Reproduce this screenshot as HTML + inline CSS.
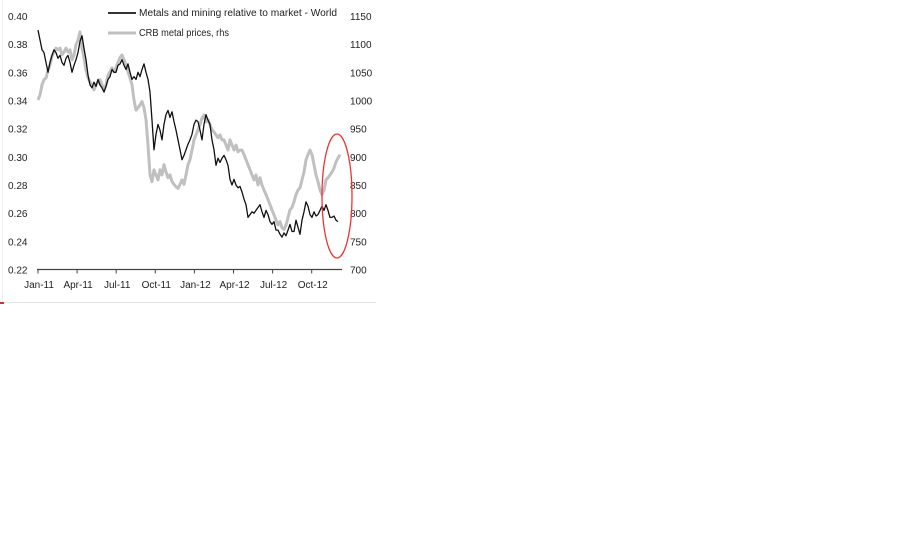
<!DOCTYPE html>
<html><head><meta charset="utf-8">
<style>
html,body{margin:0;padding:0;background:#fff;width:900px;height:546px;overflow:hidden}
svg text{font-family:"Liberation Sans",Arial,sans-serif;font-size:10px;fill:#222}
</style></head>
<body>
<svg id="chart" width="900" height="546" xmlns="http://www.w3.org/2000/svg">
<line x1="2.5" y1="0" x2="2.5" y2="302" stroke="#eee"/>
<line x1="0" y1="302.5" x2="376" y2="302.5" stroke="#e6e6e6"/>
<rect x="0" y="302" width="4" height="2" fill="#c33"/>
<g id="axes"></g>
<g id="series"></g>
<g>
<line x1="108" y1="13" x2="136" y2="13" stroke="#333" stroke-width="2"/>
<text x="139" y="16" textLength="198" lengthAdjust="spacingAndGlyphs">Metals and mining relative to market - World</text>
<line x1="108" y1="33" x2="136" y2="33" stroke="#c0c0c0" stroke-width="3"/>
<text x="139" y="36" textLength="90" lengthAdjust="spacingAndGlyphs">CRB metal prices, rhs</text>
</g>
<ellipse cx="337" cy="196" rx="15" ry="62" fill="none" stroke="#e33" stroke-width="1.3"/>
</svg>
<script>
const leftTicks=[0.40,0.38,0.36,0.34,0.32,0.30,0.28,0.26,0.24,0.22];
const rightTicks=[1150,1100,1050,1000,950,900,850,800,750,700];
const xLabels=["Jan-11","Apr-11","Jul-11","Oct-11","Jan-12","Apr-12","Jul-12","Oct-12"];
const metals=[.390,.383,.376,.374,.367,.360,.367,.372,.376,.374,.370,.372,.367,.365,.370,.372,.367,.360,.365,.369,.374,.382,.386,.377,.369,.358,.351,.349,.353,.350,.355,.351,.349,.346,.350,.355,.357,.362,.360,.360,.365,.366,.369,.365,.362,.366,.360,.355,.357,.355,.360,.357,.362,.366,.360,.355,.346,.326,.305,.316,.323,.319,.312,.323,.330,.333,.328,.332,.325,.319,.312,.305,.298,.301,.305,.309,.312,.316,.323,.326,.325,.319,.312,.323,.330,.326,.323,.312,.305,.294,.299,.296,.299,.301,.298,.294,.284,.280,.284,.280,.278,.279,.275,.270,.266,.257,.259,.261,.260,.262,.264,.266,.261,.257,.262,.259,.254,.252,.254,.248,.248,.245,.243,.246,.244,.248,.252,.247,.247,.255,.250,.245,.255,.261,.268,.265,.259,.257,.261,.258,.259,.262,.265,.262,.266,.262,.257,.257,.258,.255,.254];
const crb=[1001,1010,1028,1037,1040,1054,1063,1079,1086,1093,1090,1093,1081,1086,1093,1086,1090,1072,1081,1099,1107,1122,1093,1076,1054,1040,1033,1028,1019,1028,1033,1037,1028,1019,1028,1045,1051,1058,1051,1058,1068,1076,1081,1072,1063,1051,1040,1028,1001,983,987,992,998,987,966,921,868,856,877,868,859,877,868,886,873,863,868,856,851,847,844,851,859,851,868,886,895,912,930,939,948,957,969,974,962,966,957,948,944,939,934,939,930,930,921,912,930,921,912,921,909,912,912,904,895,886,877,868,859,868,850,863,850,841,833,824,815,806,797,788,779,785,774,771,779,792,806,810,820,833,841,845,859,873,895,904,912,904,886,868,856,841,833,841,859,863,868,873,880,891,898,904];
const NS="http://www.w3.org/2000/svg";
const yTop=16,yBot=269.5,xStart=38,qW=39.1,stepX=2;
function yL(v){return yTop+(0.40-v)/(0.18)*(yBot-yTop);}
function yR(v){return yTop+(1150-v)/450*(yBot-yTop);}
function xQ(i){return xStart+i*qW;}
function xI(i){return xStart+i*stepX;}
const axes=document.getElementById('axes'),series=document.getElementById('series');
function mk(tag,attrs,parent){const e=document.createElementNS(NS,tag);for(const k in attrs)e.setAttribute(k,attrs[k]);parent.appendChild(e);return e;}
let ax=mk('line',{x1:37,y1:yBot,x2:342,y2:yBot,stroke:'#444','stroke-width':1.2},axes);


leftTicks.forEach(v=>{const t=mk('text',{x:8,y:yL(v)+4},axes);t.textContent=v.toFixed(2);

});
rightTicks.forEach(v=>{const t=mk('text',{x:350,y:yR(v)+4},axes);t.textContent=v;

});
xLabels.forEach((s,i)=>{const tk=mk('line',{x1:xQ(i),y1:yBot,x2:xQ(i),y2:yBot+4,stroke:'#444'},axes);


const t=mk('text',{x:xQ(i)+1,y:288,'text-anchor':'middle'},axes);t.textContent=s;

});
const pc=crb.map((v,i)=>xI(i).toFixed(1)+','+yR(v).toFixed(1)).join(' ');
const g=mk('polyline',{points:pc,fill:'none',stroke:'#c0c0c0','stroke-width':3,'stroke-linejoin':'round'},series);


const pm=metals.map((v,i)=>xI(i).toFixed(1)+','+yL(v).toFixed(1)).join(' ');
const b=mk('polyline',{points:pm,fill:'none',stroke:'#111','stroke-width':1.3,'stroke-linejoin':'round'},series);


</script>
</body></html>
